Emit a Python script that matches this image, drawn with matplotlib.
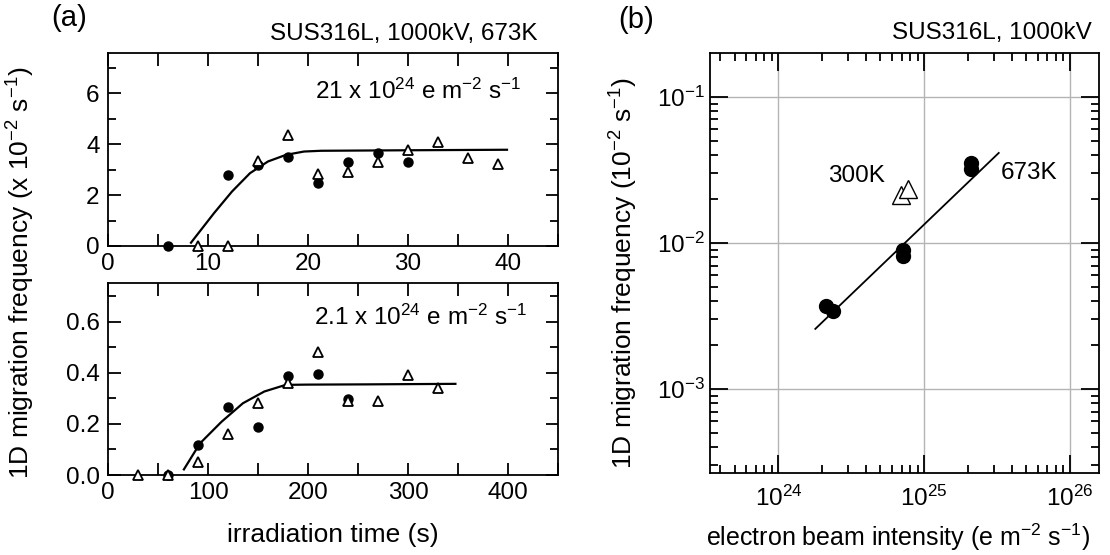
import numpy as np
import matplotlib
matplotlib.use('Agg')
import matplotlib.pyplot as plt
from matplotlib.ticker import MultipleLocator, LogLocator, NullFormatter, FormatStrFormatter

plt.rcParams['font.family'] = ['Liberation Sans', 'DejaVu Sans']
plt.rcParams['mathtext.fontset'] = 'custom'
plt.rcParams['mathtext.rm'] = 'Liberation Sans'
plt.rcParams['mathtext.it'] = 'Liberation Sans'
plt.rcParams['axes.linewidth'] = 1.3

################################################
# (a) top : 21 x 10^24 e m^-2 s^-1
################################################
t1_circ = [6, 12, 15, 18, 21, 24, 27, 30]
f1_circ = [0.0, 2.77, 3.2, 3.48, 2.46, 3.29, 3.64, 3.29]
t1_tri = [9, 12, 15, 18, 21, 24, 27, 30, 33, 36, 39]
f1_tri = [0.0, 0.0, 3.33, 4.36, 2.81, 2.89, 3.29, 3.77, 4.09, 3.46, 3.23]
t1_fit = [8.3, 10.6, 12.4, 14.2, 16.0, 17.8, 19.6, 21.3, 30.0, 39.9]
f1_fit = [0.13, 1.29, 2.14, 2.86, 3.32, 3.58, 3.71, 3.74, 3.76, 3.78]

################################################
# (a) bottom : 2.1 x 10^24 e m^-2 s^-1
################################################
t2_circ = [60, 90, 120, 150, 180, 210, 240]
f2_circ = [0.0, 0.118, 0.268, 0.187, 0.388, 0.395, 0.297]
t2_tri = [30, 60, 90, 120, 150, 180, 210, 240, 270, 300, 330]
f2_tri = [0.0, 0.0, 0.052, 0.161, 0.281, 0.36, 0.48, 0.29, 0.29, 0.391, 0.34]
t2_fit = [75.9, 92.0, 113.4, 134.9, 156.3, 177.7, 199.1, 260.0, 347.4]
f2_fit = [0.022, 0.124, 0.208, 0.281, 0.327, 0.353, 0.354, 0.355, 0.357]

################################################
# (b) : intensity dependence
################################################
I_673 = [2.11e24, 2.35e24, 7.2e24, 7.2e24, 2.09e25, 2.09e25]
f_673 = [3.68e-3, 3.40e-3, 9.0e-3, 8.1e-3, 3.53e-2, 3.21e-2]
I_300 = [6.95e24, 7.72e24]
f_300 = [2.14e-2, 2.34e-2]
I_fit = [1.79e24, 3.25e25]
f_fit = [2.58e-3, 4.13e-2]

fs = 17.5    # ticks, annotations
fl = 19.0    # axis labels

fig = plt.figure(figsize=(11.1, 5.55), dpi=100)
ax1 = fig.add_axes([108/1110, 1 - 246/555, 450/1110, 193/555])
ax2 = fig.add_axes([108/1110, 1 - 475/555, 450/1110, 192/555])
ax3 = fig.add_axes([710/1110, 1 - 473/555, 389/1110, 420/555])


def style_lin(ax):
    ax.tick_params(which='both', direction='in', top=True, right=True,
                   labelsize=fs, width=1.3)
    ax.tick_params(axis='x', pad=5)
    ax.tick_params(axis='y', pad=6)
    ax.tick_params(which='major', length=9)
    ax.tick_params(axis='y', which='minor', length=6)
    ax.tick_params(axis='x', which='minor', length=9)


# top
ax1.plot(t1_fit, f1_fit, color='k', lw=1.6, zorder=2)
ax1.plot(t1_circ, f1_circ, 'o', color='k', ms=6.5, clip_on=False, zorder=3)
ax1.plot(t1_tri, f1_tri, '^', mfc='white', mec='k', mew=1.3, ms=6.5, clip_on=False, zorder=4)
ax1.set_xlim(0, 45)
ax1.set_ylim(0, 7.58)
ax1.xaxis.set_major_locator(MultipleLocator(10))
ax1.xaxis.set_minor_locator(MultipleLocator(5))
ax1.yaxis.set_major_locator(MultipleLocator(2))
ax1.yaxis.set_minor_locator(MultipleLocator(1))
style_lin(ax1)
ax1.text(41.3, 5.78, r'21 x 10$^{24}$ e m$^{-2}$ s$^{-1}$', ha='right', va='baseline', fontsize=fs)

# bottom
ax2.plot(t2_fit, f2_fit, color='k', lw=1.6, zorder=2)
ax2.plot(t2_circ, f2_circ, 'o', color='k', ms=6.5, clip_on=False, zorder=3)
ax2.plot(t2_tri, f2_tri, '^', mfc='white', mec='k', mew=1.3, ms=6.5, clip_on=False, zorder=4)
ax2.set_xlim(0, 450)
ax2.set_ylim(0, 0.752)
ax2.xaxis.set_major_locator(MultipleLocator(100))
ax2.xaxis.set_minor_locator(MultipleLocator(50))
ax2.yaxis.set_major_locator(MultipleLocator(0.2))
ax2.yaxis.set_minor_locator(MultipleLocator(0.1))
ax2.yaxis.set_major_formatter(FormatStrFormatter('%.1f'))
style_lin(ax2)
ax2.text(419, 0.588, r'2.1 x 10$^{24}$ e m$^{-2}$ s$^{-1}$', ha='right', va='baseline', fontsize=fs)
ax2.set_xlabel('irradiation time (s)', fontsize=fl, va='center')
ax2.xaxis.set_label_coords(0.5, (475 - 535) / 192)

fig.text(21/1110, 1 - 273/555, r'1D migration frequency (x 10$^{-2}$ s$^{-1}$)',
         rotation=90, ha='center', va='center', fontsize=fl)
fig.text(69/1110, 1 - 18/555, '(a)', ha='center', va='center', fontsize=21)
fig.text(538/1110, 1 - 40/555, 'SUS316L, 1000kV, 673K', ha='right', va='baseline', fontsize=fs)

# (b)
ax3.plot(I_fit, f_fit, color='k', lw=1.3, zorder=2)
ax3.plot(I_673, f_673, 'o', color='k', ms=10, zorder=3)
ax3.plot(I_300, f_300, '^', mfc='white', mec='k', mew=1.0, ms=13, zorder=4)
ax3.set_xscale('log')
ax3.set_yscale('log')
ax3.set_xlim(10**23.53, 10**26.2)
ax3.set_ylim(10**-3.575, 10**-0.70)
ax3.xaxis.set_major_locator(LogLocator(base=10, numticks=10))
ax3.xaxis.set_minor_locator(LogLocator(base=10, subs=np.arange(2, 10), numticks=10))
ax3.xaxis.set_minor_formatter(NullFormatter())
ax3.yaxis.set_minor_formatter(NullFormatter())
ax3.grid(True, which='major', color='#b4b4b4', lw=1.0)
ax3.tick_params(which='both', direction='in', top=True, right=True,
                labelsize=fs, width=1.3)
ax3.tick_params(axis='x', pad=9)
ax3.tick_params(axis='y', pad=4)
ax3.tick_params(which='major', length=13)
ax3.tick_params(which='minor', length=6)
ax3.text(5.4e24, 2.85e-2, '300K', ha='right', va='center', fontsize=fs)
ax3.text(3.34e25, 3.03e-2, '673K', ha='left', va='center', fontsize=fs)
ax3.set_xlabel(r'electron beam intensity (e m$^{-2}$ s$^{-1}$)', fontsize=18, va='center')
ax3.xaxis.set_label_coords((898 - 710) / 389, (473 - 537) / 420)
ax3.set_ylabel(r'1D migration frequency (10$^{-2}$ s$^{-1}$)', fontsize=fl, va='center', ha='center')
ax3.yaxis.set_label_coords((624 - 710) / 389, 0.5 - (273 - 263) / 420)

fig.text(636/1110, 1 - 20/555, '(b)', ha='center', va='center', fontsize=21)
fig.text(1092/1110, 1 - 39/555, 'SUS316L, 1000kV', ha='right', va='baseline', fontsize=fs)

fig.savefig('out.png', dpi=100)
